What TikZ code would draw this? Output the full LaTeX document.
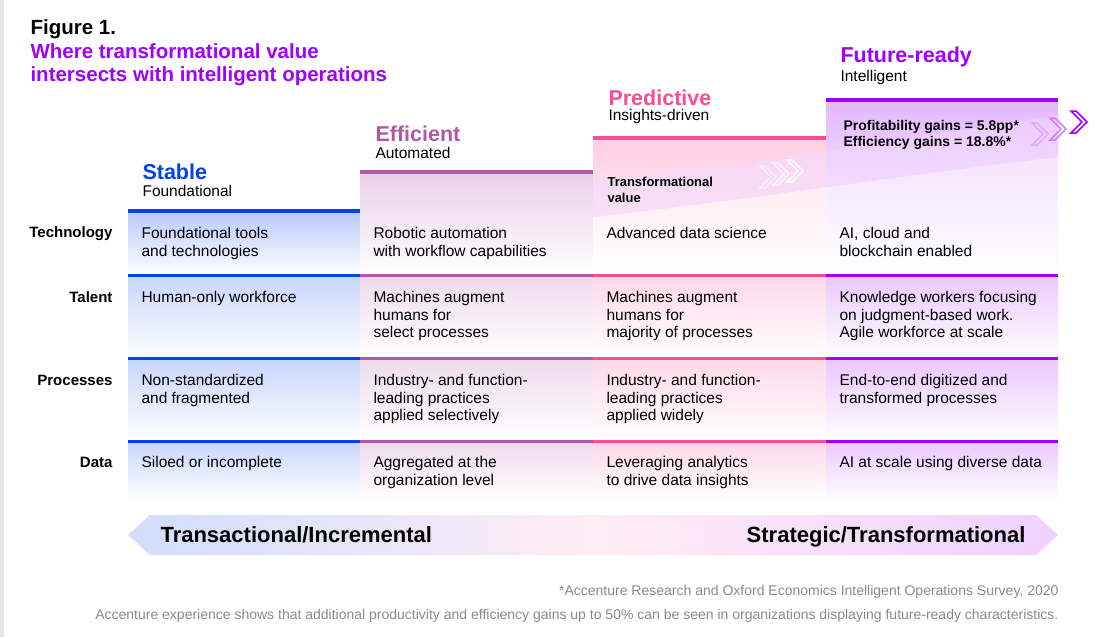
\documentclass[tikz,border=0pt]{standalone}
\usepackage{fontspec}
\setmainfont{Liberation Sans}
\definecolor{cStable}{HTML}{0041F0}
\definecolor{cEff}{HTML}{B058A8}
\definecolor{cPred}{HTML}{FF4B96}
\definecolor{cFut}{HTML}{A100FF}
\definecolor{cTitle}{HTML}{A100FF}
\definecolor{cFoot}{HTML}{8A8A8A}
\tikzset{
  rowlab/.style={anchor=east, font=\bfseries\fontsize{15}{17}\selectfont},
  cell/.style={anchor=north west, align=left, font=\fontsize{15.5}{17.5}\selectfont},
  colname/.style={anchor=south west, font=\bfseries\fontsize{21.5}{23}\selectfont},
  colsub/.style={anchor=south west, font=\fontsize{15.5}{17}\selectfont},
  foot/.style={anchor=east, text=cFoot, font=\fontsize{14}{16}\selectfont},
}
\newcommand{\chev}[4]{% x, y, colour, opacity
  \draw[#3, draw opacity=#4, line width=1.5pt, line join=miter]
    (#1,#2) -- ++(11,-11) -- ++(-11,-11) -- ++(5,0) -- ++(11,11) -- ++(-11,11) -- cycle;}
\begin{document}
\begin{tikzpicture}[x=1pt, y=-1pt]
  \useasboundingbox (0,0) rectangle (1105,637);
  \fill[white] (0,0) rectangle (1105,637);
  \fill[black!10] (0,0) rectangle (4,637);

  % title
  \node[anchor=north west, font=\bfseries\fontsize{20.5}{23}\selectfont] (fig) at (27,16) {Figure 1.};
  \node[anchor=north west, align=left, text=cTitle, font=\bfseries\fontsize{20.5}{23}\selectfont] (title) at (27,40)
    {Where transformational value\\intersects with intelligent operations};

  % column fills
  \foreach \xa/\xb/\yh/\col in {128/360/211/cStable, 360/593/172/cEff, 593/826/138/cPred, 826/1058/100/cFut}{
    \shade[top color=\col!28, bottom color=white] (\xa,\yh) rectangle (\xb,275);
    \shade[top color=\col!22, bottom color=white] (\xa,275) rectangle (\xb,358);
    \shade[top color=\col!22, bottom color=white] (\xa,358) rectangle (\xb,441);
    \shade[top color=\col!22, bottom color=white] (\xa,441) rectangle (\xb,500);
    \draw[\col, line width=4pt] (\xa,\yh) -- (\xb,\yh);
    \foreach \yy in {275,358,441}
      \draw[\col, line width=3pt] (\xa,\yy) -- (\xb,\yy);
  }
  % transformational value band
  \fill[white, opacity=0.45] (593,217) .. controls (750,200) and (900,175) .. (1058,157)
    -- (1058,272) -- (593,272) -- cycle;
  \fill[cFut!15, opacity=0.5] (593,217) .. controls (750,200) and (900,175) .. (1058,157)
    -- (1058,115) .. controls (900,140) and (750,165) .. (593,180) -- cycle;
  \chev{760}{188}{white}{0.5}
  \chev{773}{185}{white}{0.7}
  \chev{787}{182}{white}{0.95}
  \chev{1032}{145}{cFut!35}{0.8}
  \chev{1050}{140}{cFut!55}{0.9}
  \chev{1071}{133}{cFut}{1}

  % column heads
  \node[colname, text=cStable] (hStable) at (139,183) {Stable};
  \node[colsub] (sStable) at (139,200) {Foundational};
  \node[colname, text=cEff] (hEff) at (372,145) {Efficient};
  \node[colsub] (sEff) at (372,162) {Automated};
  \node[colname, text=cPred] (hPred) at (605,109) {Predictive};
  \node[colsub] (sPred) at (605,127) {Insights-driven};
  \node[colname, text=cFut] (hFut) at (837,70) {Future-ready};
  \node[colsub] (sFut) at (837,88) {Intelligent};
  \node[anchor=north west, align=left, font=\bfseries\fontsize{14}{16}\selectfont] (gains) at (840,117)
    {Profitability gains = 5.8pp*\\Efficiency gains = 18.8\%*};
  \node[anchor=north west, align=left, font=\bfseries\fontsize{13}{16}\selectfont] (tv) at (604,174)
    {Transformational\\value};

  % row labels
  \node[rowlab] (rTech) at (116,234) {Technology};
  \node[rowlab] (rTal) at (116,297) {Talent};
  \node[rowlab] (rProc) at (116,380) {Processes};
  \node[rowlab] (rData) at (116,462) {Data};

  % cells
  \node[cell] (c11) at (138,224) {Foundational tools\\and technologies};
  \node[cell] (c12) at (370,224) {Robotic automation\\with workflow capabilities};
  \node[cell] (c13) at (603,224) {Advanced data science};
  \node[cell] (c14) at (836,224) {AI, cloud and\\blockchain enabled};
  \node[cell] (c21) at (138,288) {Human-only workforce};
  \node[cell] (c22) at (370,288) {Machines augment\\humans for\\select processes};
  \node[cell] (c23) at (603,288) {Machines augment\\humans for\\majority of processes};
  \node[cell] (c24) at (836,288) {Knowledge workers focusing\\on judgment-based work.\\Agile workforce at scale};
  \node[cell] (c31) at (138,371) {Non-standardized\\and fragmented};
  \node[cell] (c32) at (370,371) {Industry- and function-\\leading practices\\applied selectively};
  \node[cell] (c33) at (603,371) {Industry- and function-\\leading practices\\applied widely};
  \node[cell] (c34) at (836,371) {End-to-end digitized and\\transformed processes};
  \node[cell] (c41) at (138,453) {Siloed or incomplete};
  \node[cell] (c42) at (370,453) {Aggregated at the\\organization level};
  \node[cell] (c43) at (603,453) {Leveraging analytics\\to drive data insights};
  \node[cell] (c44) at (836,453) {AI at scale using diverse data};

  % bottom arrow
  \shade[left color=cStable!18, right color=cFut!18, middle color=cPred!10]
    (128,535) -- (150,515) -- (1036,515) -- (1058,535) -- (1036,555) -- (150,555) -- cycle;
  \node[anchor=base west, font=\bfseries\fontsize{22}{24}\selectfont] (left) at (157,542) {Transactional/Incremental};
  \node[anchor=base east, font=\bfseries\fontsize{22}{24}\selectfont] (right) at (1029,542) {Strategic/Transformational};

  % footnotes
  \node[foot] (f1) at (1062,592) {*Accenture Research and Oxford Economics Intelligent Operations Survey, 2020};
  \node[foot] (f2) at (1062,616) {Accenture experience shows that additional productivity and efficiency gains up to 50\% can be seen in organizations displaying future-ready characteristics.};
\end{tikzpicture}
\end{document}
